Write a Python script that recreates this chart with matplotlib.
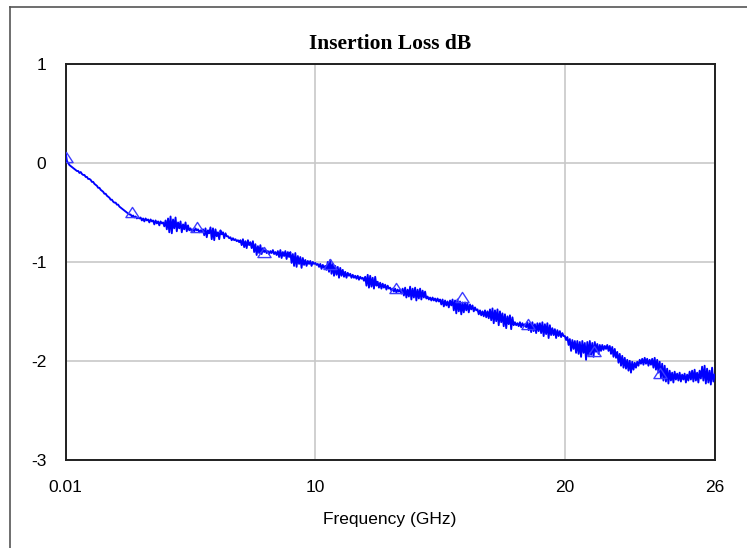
import numpy as np
from matplotlib import pyplot as plt
from matplotlib.lines import Line2D
from matplotlib.path import Path

# sweep 0.01 .. 26 GHz, 521 points
freq = np.linspace(0.01, 26.0, 521)

# insertion loss (dB), 10 points per 0.5 GHz
loss = [
    0.10, 0.02, 0.00, -0.02, -0.03, -0.04, -0.05, -0.06, -0.07, -0.08,
    -0.08, -0.10, -0.09, -0.11, -0.12, -0.12, -0.14, -0.14, -0.16, -0.16,
    -0.17, -0.19, -0.19, -0.21, -0.22, -0.23, -0.25, -0.25, -0.27, -0.28,
    -0.29, -0.31, -0.31, -0.33, -0.34, -0.35, -0.37, -0.37, -0.39, -0.40,
    -0.40, -0.42, -0.42, -0.44, -0.45, -0.46, -0.47, -0.48, -0.49, -0.50,
    -0.51, -0.52, -0.52, -0.54, -0.53, -0.55, -0.54, -0.56, -0.55, -0.56,
    -0.55, -0.58, -0.56, -0.59, -0.56, -0.58, -0.57, -0.60, -0.57, -0.59,
    -0.58, -0.62, -0.58, -0.61, -0.59, -0.63, -0.59, -0.61, -0.60, -0.64,
    -0.58, -0.67, -0.56, -0.70, -0.54, -0.71, -0.57, -0.66, -0.55, -0.69,
    -0.60, -0.66, -0.59, -0.70, -0.62, -0.67, -0.60, -0.69, -0.63, -0.68,
    -0.66, -0.69, -0.67, -0.69, -0.66, -0.68, -0.67, -0.70, -0.68, -0.69,
    -0.67, -0.73, -0.66, -0.75, -0.68, -0.71, -0.65, -0.77, -0.66, -0.78,
    -0.67, -0.74, -0.70, -0.77, -0.68, -0.72, -0.70, -0.76, -0.71, -0.74,
    -0.74, -0.76, -0.75, -0.78, -0.76, -0.78, -0.77, -0.79, -0.78, -0.80,
    -0.78, -0.83, -0.77, -0.85, -0.79, -0.86, -0.78, -0.83, -0.80, -0.86,
    -0.79, -0.90, -0.82, -0.93, -0.84, -0.91, -0.83, -0.92, -0.86, -0.90,
    -0.88, -0.91, -0.89, -0.92, -0.89, -0.91, -0.88, -0.92, -0.90, -0.93,
    -0.89, -0.95, -0.88, -0.96, -0.90, -0.94, -0.89, -0.97, -0.90, -0.95,
    -0.90, -1.01, -0.92, -1.04, -0.91, -1.05, -0.94, -1.02, -0.95, -1.06,
    -0.96, -1.03, -0.98, -1.04, -0.99, -1.02, -0.99, -1.04, -1.00, -1.02,
    -1.01, -1.03, -1.02, -1.05, -1.02, -1.07, -1.03, -1.06, -1.04, -1.08,
    -1.00, -1.10, -0.98, -1.12, -1.02, -1.14, -1.04, -1.13, -1.05, -1.16,
    -1.06, -1.14, -1.08, -1.15, -1.10, -1.16, -1.11, -1.14, -1.12, -1.16,
    -1.13, -1.16, -1.14, -1.17, -1.14, -1.18, -1.15, -1.17, -1.16, -1.19,
    -1.15, -1.24, -1.13, -1.26, -1.14, -1.25, -1.16, -1.27, -1.15, -1.24,
    -1.20, -1.26, -1.21, -1.27, -1.22, -1.26, -1.23, -1.28, -1.24, -1.27,
    -1.26, -1.29, -1.27, -1.30, -1.27, -1.31, -1.28, -1.30, -1.28, -1.32,
    -1.27, -1.34, -1.26, -1.36, -1.28, -1.35, -1.25, -1.38, -1.27, -1.36,
    -1.26, -1.39, -1.28, -1.37, -1.27, -1.38, -1.29, -1.36, -1.30, -1.37,
    -1.35, -1.38, -1.36, -1.39, -1.36, -1.39, -1.37, -1.40, -1.37, -1.40,
    -1.38, -1.43, -1.38, -1.45, -1.39, -1.44, -1.40, -1.46, -1.39, -1.44,
    -1.38, -1.49, -1.39, -1.52, -1.38, -1.50, -1.40, -1.53, -1.41, -1.51,
    -1.41, -1.49, -1.42, -1.51, -1.43, -1.48, -1.44, -1.50, -1.46, -1.49,
    -1.48, -1.53, -1.49, -1.54, -1.50, -1.55, -1.49, -1.56, -1.50, -1.57,
    -1.48, -1.59, -1.47, -1.62, -1.49, -1.60, -1.48, -1.64, -1.50, -1.61,
    -1.52, -1.65, -1.53, -1.67, -1.55, -1.63, -1.54, -1.68, -1.56, -1.64,
    -1.61, -1.64, -1.62, -1.65, -1.61, -1.66, -1.62, -1.65, -1.63, -1.66,
    -1.61, -1.69, -1.62, -1.71, -1.61, -1.70, -1.63, -1.72, -1.62, -1.70,
    -1.62, -1.72, -1.61, -1.75, -1.63, -1.73, -1.62, -1.77, -1.64, -1.74,
    -1.67, -1.74, -1.68, -1.77, -1.69, -1.75, -1.70, -1.76, -1.72, -1.75,
    -1.75, -1.79, -1.76, -1.84, -1.78, -1.90, -1.79, -1.88, -1.80, -1.92,
    -1.80, -1.93, -1.81, -1.96, -1.80, -1.92, -1.82, -1.99, -1.81, -1.95,
    -1.80, -1.94, -1.82, -1.96, -1.81, -1.91, -1.83, -1.93, -1.84, -1.90,
    -1.84, -1.89, -1.85, -1.88, -1.84, -1.90, -1.85, -1.93, -1.86, -1.96,
    -1.88, -1.97, -1.91, -2.02, -1.93, -2.05, -1.95, -2.07, -1.97, -2.08,
    -1.99, -2.10, -2.00, -2.12, -2.01, -2.09, -2.02, -2.07, -2.01, -2.05,
    -1.99, -2.03, -1.98, -2.04, -1.97, -2.03, -1.98, -2.05, -1.99, -2.04,
    -1.98, -2.07, -1.97, -2.09, -1.99, -2.12, -2.01, -2.17, -2.03, -2.20,
    -2.05, -2.21, -2.08, -2.23, -2.10, -2.20, -2.12, -2.22, -2.11, -2.19,
    -2.13, -2.20, -2.12, -2.21, -2.14, -2.19, -2.13, -2.22, -2.14, -2.20,
    -2.11, -2.19, -2.10, -2.21, -2.09, -2.20, -2.12, -2.22, -2.10, -2.18,
    -2.06, -2.20, -2.05, -2.23, -2.08, -2.22, -2.10, -2.24, -2.07, -2.21,
    -2.14,
]

# triangle markers
marker_freq = [0.01, 2.65, 5.28, 7.96, 10.58, 13.25, 15.87, 18.51, 21.18, 23.82]
marker_loss = [0.06, -0.49, -0.65, -0.90, -1.02, -1.26, -1.35, -1.63, -1.90, -2.12]

xticks = [0.01, 10, 20, 26]
xtick_labels = ['0.01', '10', '20', '26']
yticks = [-3, -2, -1, 0, 1]
ytick_labels = ['-3', '-2', '-1', '0', '1']

fig = plt.figure(figsize=(7.47, 5.48), dpi=100)
ax = fig.add_axes([0.088, 0.1613, 0.8686, 0.7214])

# flat triangle, a bit wider than tall
tri = Path([(0, 1), (-1.3, -1), (1.3, -1), (0, 1)],
           [Path.MOVETO, Path.LINETO, Path.LINETO, Path.CLOSEPOLY])

ax.plot(freq, loss, color='#0000ff', lw=1.35, zorder=3)
ax.plot(marker_freq, marker_loss, linestyle='', marker=tri, markersize=9.5,
        markerfacecolor='none', markeredgecolor='#3c3cff', markeredgewidth=1.0,
        zorder=4)

ax.set_xlim(0.01, 26)
ax.set_ylim(-3, 1)
ax.set_xticks(xticks)
ax.set_xticklabels(xtick_labels)
ax.set_yticks(yticks)
ax.set_yticklabels(ytick_labels)

ax.grid(True, color='#c8c8c8', lw=1.2, zorder=0)
ax.set_axisbelow(True)
ax.tick_params(axis='both', length=0, labelsize=12.5)
ax.tick_params(axis='x', pad=15)
ax.tick_params(axis='y', pad=14)
for lab in ax.get_xticklabels() + ax.get_yticklabels():
    lab.set_family('Liberation Sans')

for s in ax.spines.values():
    s.set_color('#202020')
    s.set_linewidth(1.4)

ax.set_xlabel('Frequency (GHz)', family='Liberation Sans', fontsize=12.5, labelpad=12)
ax.set_title('Insertion Loss dB', family='Liberation Serif', fontweight='bold',
             fontsize=15.5, pad=11)

# outer chart frame (left and top edges visible)
fx = 9.5 / 747
fy = 1 - 6.5 / 548
fig.add_artist(Line2D([fx, fx], [0, fy], transform=fig.transFigure, color='#555555', lw=1.2))
fig.add_artist(Line2D([fx, 1], [fy, fy], transform=fig.transFigure, color='#555555', lw=1.2))

plt.savefig('out.png', dpi=100)
plt.close()
